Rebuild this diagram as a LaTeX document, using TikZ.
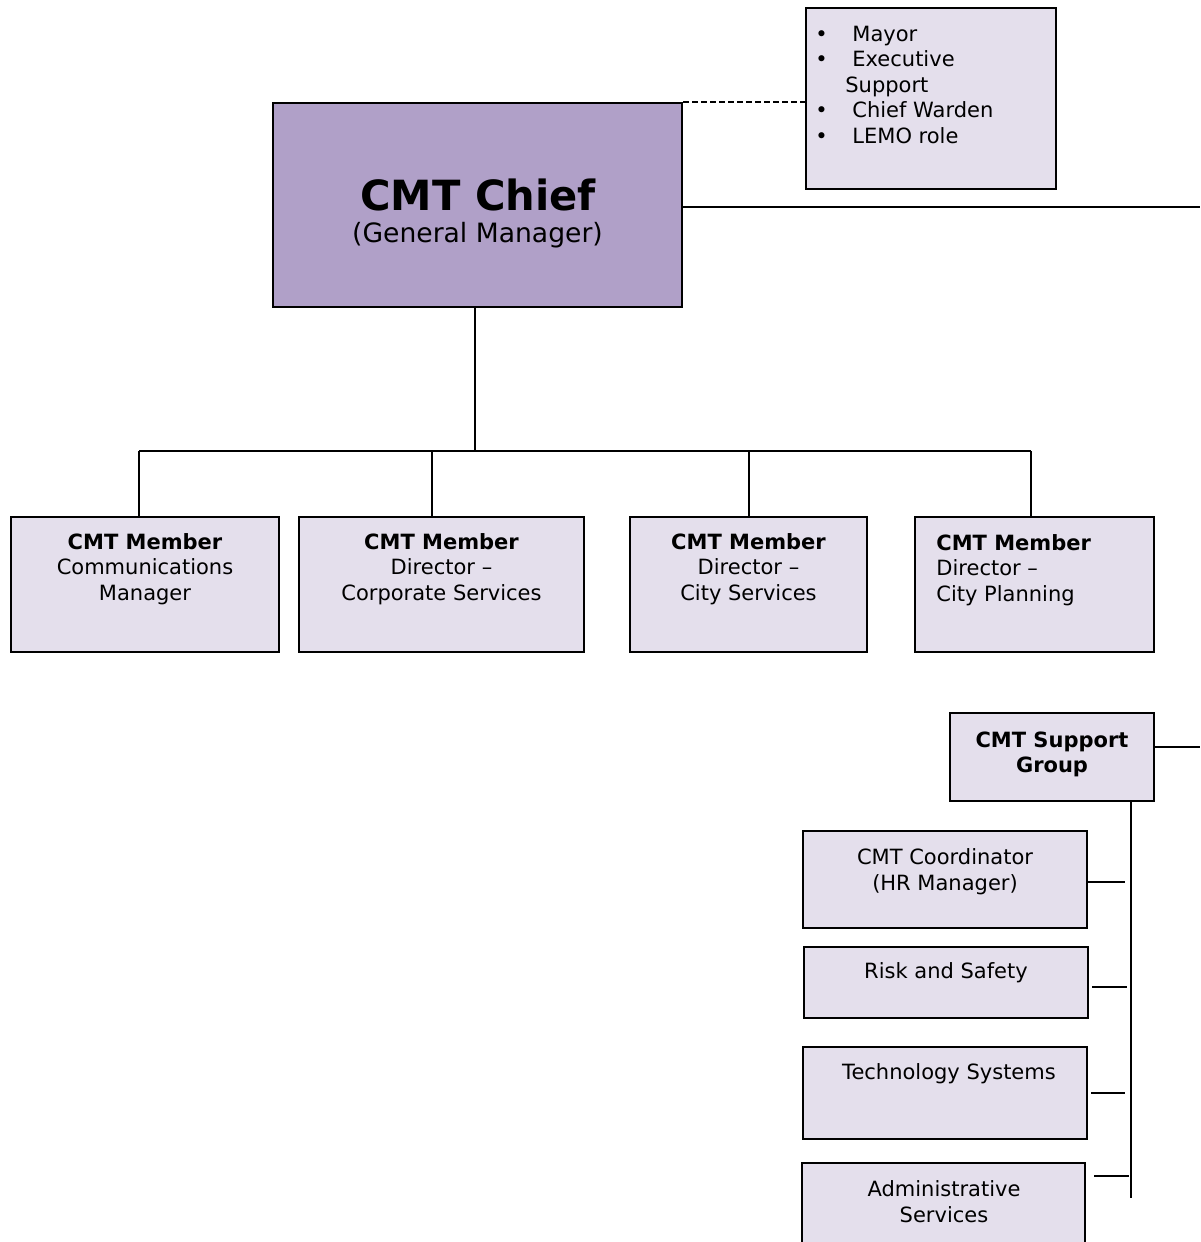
\documentclass[tikz,border=0pt]{standalone}
\usepackage{fontspec}
\setmainfont{DejaVu Sans}
\usetikzlibrary{positioning}
\definecolor{chieffill}{HTML}{B0A0C8}
\definecolor{boxfill}{HTML}{E4DFEC}

\begin{document}
\begin{tikzpicture}[x=0.5pt,y=-0.5pt,
    box/.style={draw=black, fill=boxfill, line width=1pt, inner sep=0pt},
    txt/.style={inner sep=0pt, align=center, font=\fontsize{10.5}{12.75}\selectfont},
    link/.style={black, line width=1pt}]
  \useasboundingbox (0,0) rectangle (1200,1242);
  \clip (0,0) rectangle (1200,1242);

  % chief and the note beside it
  \node[box, fill=chieffill, minimum width=204.5pt, minimum height=102pt] (chief) at (477.5,205) {};
  \node[inner sep=0pt, anchor=north, font=\fontsize{20.8}{24}\selectfont\bfseries] (chiefname) at (478,178) {CMT Chief};
  \node[inner sep=0pt, font=\fontsize{13.3}{16}\selectfont] (chiefrole) at (477.5,235) {(General Manager)};

  \node[box, minimum width=125pt, minimum height=90.5pt] (note) at (931,98.5) {};
  \node[txt, align=left, anchor=north west] (notetext) at (815,25.5)
    {\makebox[18.5pt][l]{\textbullet}Mayor\\
     \makebox[18.5pt][l]{\textbullet}Executive\\
     \hspace{15pt}Support\\
     \makebox[18.5pt][l]{\textbullet}Chief Warden\\
     \makebox[18.5pt][l]{\textbullet}LEMO role};

  \draw[link, dash pattern=on 3pt off 1.5pt] (chief.north east) -- (chief.north east -| note.west);
  \coordinate (chiefout) at (1200,207);
  \draw[link] (chief.east |- chiefout) -- (chiefout);

  % members
  \node[box, minimum width=134pt, minimum height=67.5pt] (comms) at (145,584.5) {};
  \node[box, minimum width=142.5pt, minimum height=67.5pt] (corporate) at (441.5,584.5) {};
  \node[box, minimum width=118.5pt, minimum height=67.5pt] (cityserv) at (748.5,584.5) {};
  \node[box, minimum width=119.5pt, minimum height=67.5pt] (cityplan) at (1034.5,584.5) {};

  \node[txt, anchor=north] (commstext) at ([yshift=-8.5pt]comms.north) {\textbf{CMT Member}\\Communications\\Manager};
  \node[txt, anchor=north] (corporatetext) at ([yshift=-8.5pt]corporate.north) {\textbf{CMT Member}\\Director –\\Corporate Services};
  \node[txt, anchor=north] (cityservtext) at ([yshift=-8.5pt]cityserv.north) {\textbf{CMT Member}\\Director –\\City Services};
  \node[txt, align=left, anchor=north west] (cityplantext) at (936,534) {\textbf{CMT Member}\\Director –\\City Planning};

  \coordinate (drop) at (475,451);
  \coordinate (d1) at (139,451);
  \coordinate (d2) at (432,451);
  \coordinate (d3) at (749,451);
  \coordinate (d4) at (1031,451);
  \draw[link] (chief.south -| drop) -- (drop);
  \draw[link] (d1) -- (d4);
  \draw[link] (d1) -- (d1 |- comms.north);
  \draw[link] (d2) -- (d2 |- corporate.north);
  \draw[link] (d3) -- (d3 |- cityserv.north);
  \draw[link] (d4) -- (d4 |- cityplan.north);

  % support group
  \node[box, minimum width=102pt, minimum height=44pt] (support) at (1052,757) {};
  \node[txt, anchor=north, font=\fontsize{10.5}{12.75}\selectfont\bfseries] (supporttext) at (1052,731.5) {CMT Support\\Group};
  \coordinate (supout) at (1200,747);
  \draw[link] (support.east |- supout) -- (supout);
  \coordinate (spineend) at (1131,1198);
  \draw[link] (support.south -| spineend) -- (spineend);

  \node[box, minimum width=142pt, minimum height=48.5pt] (coord) at (945,879.5) {};
  \node[box, minimum width=142pt, minimum height=35.5pt] (risk) at (946,982.5) {};
  \node[box, minimum width=142pt, minimum height=46pt] (tech) at (945,1093) {};
  \node[box, minimum width=141.5pt, minimum height=50pt] (admin) at (943.5,1213) {};

  \node[txt, anchor=north] (coordtext) at (945,848.5) {CMT Coordinator\\(HR Manager)};
  \node[txt, anchor=north] (risktext) at (946,962.5) {Risk and Safety};
  \node[txt, anchor=north] (techtext) at (949,1063.5) {Technology Systems};
  \node[txt, anchor=north] (admintext) at (944,1180.5) {Administrative\\Services};

  \draw[link] ([shift={(0,2.5)}]coord.east) -- ++(37,0);
  \draw[link] ([shift={(3,4.5)}]risk.east) -- ++(35,0);
  \draw[link] ([shift={(3,0)}]tech.east) -- ++(34,0);
  \draw[link] ([shift={(8,14)}]admin.north east) -- ++(35,0);
\end{tikzpicture}
\end{document}
